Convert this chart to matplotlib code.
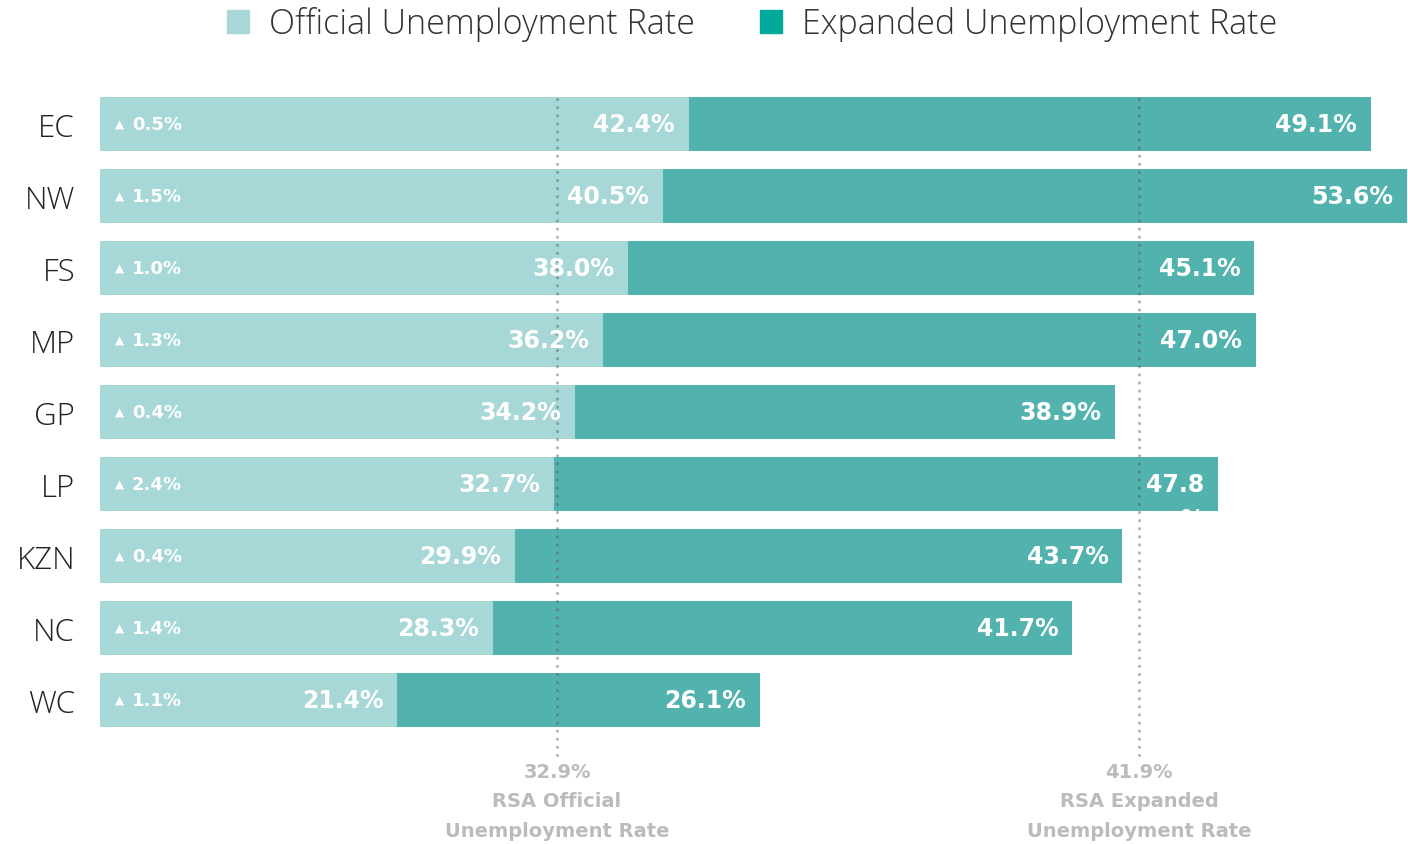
import numpy as np
import matplotlib
matplotlib.use("Agg")
import matplotlib.pyplot as plt
from matplotlib.patches import Patch

plt.rcParams['font.family'] = ['Open Sans', 'DejaVu Sans']
BOLD = ['DejaVu Sans']

regions = ["EC", "NW", "FS", "MP", "GP", "LP", "KZN", "NC", "WC"]
official = [42.4, 40.5, 38.0, 36.2, 34.2, 32.7, 29.9, 28.3, 21.4]
expanded = [49.1, 53.6, 45.1, 47.0, 38.9, 47.8, 43.7, 41.7, 26.1]
change = [0.5, 1.5, 1.0, 1.3, 0.4, 2.4, 0.4, 1.4, 1.1]
rsa_official = 32.9
rsa_expanded = 41.9

light = "#A7D8D7"
dark = "#52B3AE"

fig = plt.figure(figsize=(14.08, 8.45), dpi=100)
ax = fig.add_axes([100/1408, 1-737/845, 1308/1408, 648/845])
y = np.arange(len(regions))
ax.barh(y, official, height=0.75, color=light)
bars2 = ax.barh(y, expanded, left=official, height=0.75, color=dark)
ax.set_xlim(0, 94.17)
ax.set_ylim(8.5, -0.5)
ax.set_xticks([])
ax.set_yticks(y, regions)
ax.tick_params(axis="y", length=0, pad=18, labelsize=22.5, labelcolor="#222222")
for lab in ax.get_yticklabels():
    lab.set_fontweight("light")
for s in ax.spines.values():
    s.set_visible(False)

# bar labels
for i in range(len(regions)):
    o, e = official[i], expanded[i]
    ax.text(o - 1.0, i, f"{o:.1f}%", ha="right", va="center", color="white",
            fontsize=17, fontweight="bold", family=BOLD)
    if regions[i] == "LP":
        ax.text(o + e - 1.0, i, f"{e:.1f}", ha="right", va="center", color="white",
                fontsize=17, fontweight="bold", family=BOLD)
        t = ax.text(o + e - 1.0, i + 0.32, "%", ha="right", va="top", color="white",
                    fontsize=17, fontweight="bold", family=BOLD)
        t.set_clip_path(bars2[i])
    else:
        ax.text(o + e - 1.0, i, f"{e:.1f}%", ha="right", va="center", color="white",
                fontsize=17, fontweight="bold", family=BOLD)
    ax.text(1.37, i, "\u25B2", ha="center", va="center", color="white",
            fontsize=8.5, family=BOLD)
    ax.text(2.3, i, f"{change[i]:.1f}%", ha="left", va="center", color="white",
            fontsize=13, fontweight="bold", family=BOLD)

# RSA reference lines
for xv, val, name in [(rsa_official, rsa_official, "RSA Official"),
                      (rsa_official + rsa_expanded, rsa_expanded, "RSA Expanded")]:
    ax.plot([xv, xv], [-0.35, 8.78], color="#555555", alpha=0.45, lw=2.2,
            linestyle=(0, (0.05, 2.6)), dash_capstyle="round", clip_on=False)
    ax.text(xv, 9.0, f"{val:.1f}%", ha="center", va="center", color="#BBBBBB",
            fontsize=14, fontweight="bold", family=BOLD)
    ax.text(xv, 9.4, name, ha="center", va="center", color="#BBBBBB",
            fontsize=14, fontweight="bold", family=BOLD)
    ax.text(xv, 9.81, "Unemployment Rate", ha="center", va="center", color="#BBBBBB",
            fontsize=14, fontweight="bold", family=BOLD)

handles = [Patch(color=light), Patch(color="#00A89A")]
leg = fig.legend(handles, ["Official Unemployment Rate", "Expanded Unemployment Rate"],
                 loc="center", bbox_to_anchor=(752/1408, 1-25/845), ncol=2, frameon=False,
                 fontsize=24.5, handlelength=0.65, handleheight=0.65, handletextpad=0.6,
                 columnspacing=1.9)
for t in leg.get_texts():
    t.set_color("#333333")
    t.set_fontweight("light")

fig.savefig("out.png", dpi=100)
